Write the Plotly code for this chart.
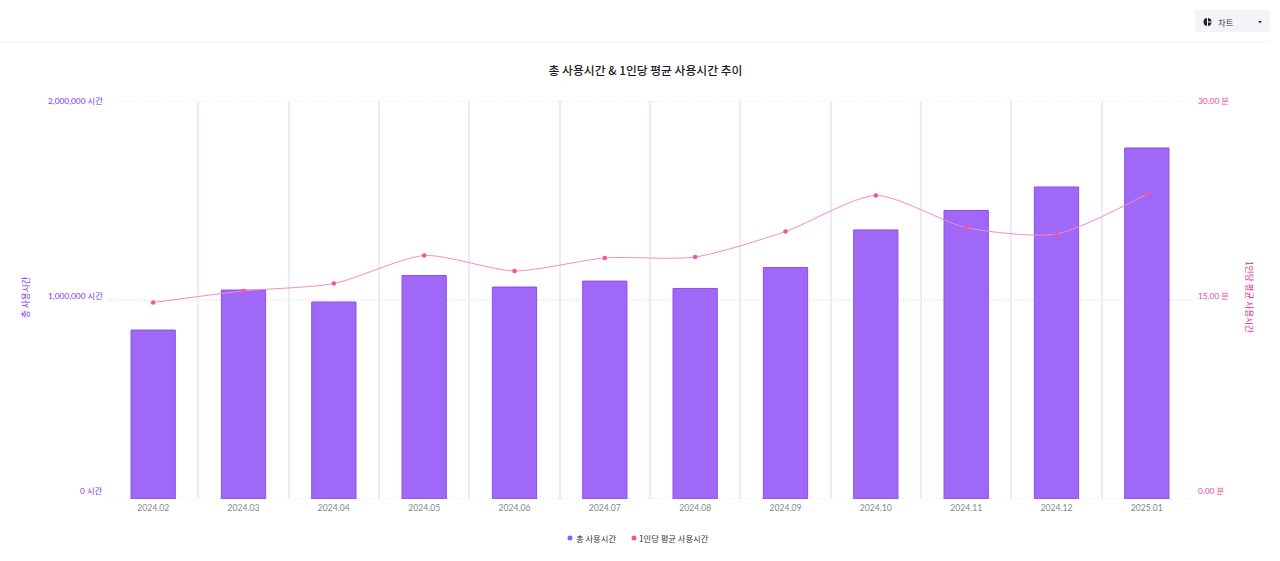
import plotly.graph_objects as go

W, H = 1280, 561
L, R, T, B = 108, 1192, 101, 499

FONT = "Lato, 'Noto Sans CJK KR', sans-serif"
KFONT = "'Noto Sans CJK KR', sans-serif"
PURPLE = "#7c3aed"
PINK = "#ec4899"

months = ["2024.02", "2024.03", "2024.04", "2024.05", "2024.06", "2024.07",
          "2024.08", "2024.09", "2024.10", "2024.11", "2024.12", "2025.01"]
total_hours = [849000, 1050000, 990000, 1123000, 1065000, 1095000,
               1058000, 1163000, 1352000, 1450000, 1568000, 1764000]
avg_minutes = [14.81, 15.68, 16.24, 18.35, 17.19, 18.17,
               18.24, 20.16, 22.88, 20.46, 19.97, 22.99]
left_ticks = [0, 1000000, 2000000]
left_labels = ["0 시간", "1,000,000 시간", "2,000,000 시간"]
right_ticks = [0, 15, 30]
right_labels = ["0.00 분", "15.00 분", "30.00 분"]


def px(x):
    return (x - L) / (R - L)


def py(y):
    return (B - y) / (B - T)


def text_at(x, y, text, color, size=8.3, anchor="left", angle=0):
    return dict(x=px(x), y=py(y), xref="paper", yref="paper", text=text, textangle=angle,
                xanchor=anchor, yanchor="middle", showarrow=False,
                font=dict(family=KFONT, size=size, color=color))


def rounded_rect(x0, y0, x1, y1, r):
    return (f"M {px(x0 + r)} {py(y0)} L {px(x1 - r)} {py(y0)} Q {px(x1)} {py(y0)} {px(x1)} {py(y0 + r)} "
            f"L {px(x1)} {py(y1 - r)} Q {px(x1)} {py(y1)} {px(x1 - r)} {py(y1)} "
            f"L {px(x0 + r)} {py(y1)} Q {px(x0)} {py(y1)} {px(x0)} {py(y1 - r)} "
            f"L {px(x0)} {py(y0 + r)} Q {px(x0)} {py(y0)} {px(x0 + r)} {py(y0)} Z")


fig = go.Figure()
fig.add_trace(go.Bar(
    x=months, y=total_hours, width=0.49, name="총 사용시간",
    marker=dict(color="#9f68f7", line=dict(color="#8b4fe8", width=1)),
))
fig.add_trace(go.Scatter(
    x=months, y=avg_minutes, yaxis="y2", mode="lines+markers", name="1인당 평균 사용시간",
    line=dict(color="#f48cc4", width=1, shape="spline", smoothing=0.7),
    marker=dict(color="#f0569f", size=4.5),
))

annotations = []
# tick labels sit just above their grid lines except at the top
for val, lab, shift in zip(left_ticks, left_labels, [8, 4, 0]):
    annotations.append(dict(x=0, y=val, xref="paper", yref="y", text=lab, showarrow=False,
                            xanchor="right", yanchor="middle", xshift=-3, yshift=shift,
                            font=dict(family=FONT, size=8.3, color=PURPLE)))
for val, lab, shift in zip(right_ticks, right_labels, [8, 4, 0]):
    annotations.append(dict(x=1, y=val, xref="paper", yref="y2", text=lab, showarrow=False,
                            xanchor="left", yanchor="middle", xshift=4, yshift=shift,
                            font=dict(family=FONT, size=8.3, color=PINK)))

annotations += [
    text_at(25, 297, "총 사용시간", PURPLE, size=8.6, anchor="center", angle=-90),
    text_at(1250, 297, "1인당 평균 사용시간", "#e0288a", size=8.6, anchor="center", angle=90),
    text_at(573.5, 538, "총 사용시간", "#33333d"),
    text_at(637, 538, "1인당 평균 사용시간", "#33333d"),
    text_at(1216, 22, "차트", "#33333d"),
]

shapes = [
    # header rule and dropdown button
    dict(type="line", xref="paper", yref="paper", x0=px(0), x1=px(1270), y0=py(42), y1=py(42),
         line=dict(color="#f3f3f7", width=1)),
    dict(type="path", xref="paper", yref="paper", path=rounded_rect(1195, 10, 1270, 32, 3),
         fillcolor="#f3f4f8", line=dict(width=0)),
    dict(type="circle", xref="paper", yref="paper", x0=px(1203.5), x1=px(1211.5), y0=py(18), y1=py(26),
         fillcolor="#1f2430", line=dict(width=0)),
    dict(type="line", xref="paper", yref="paper", x0=px(1207.5), x1=px(1207.5), y0=py(17), y1=py(27),
         line=dict(color="#f3f4f8", width=1)),
    dict(type="line", xref="paper", yref="paper", x0=px(1207.5), x1=px(1212), y0=py(22), y1=py(22),
         line=dict(color="#f3f4f8", width=1)),
    dict(type="path", xref="paper", yref="paper",
         path=f"M {px(1258)} {py(21)} L {px(1262)} {py(21)} L {px(1260)} {py(23.5)} Z",
         fillcolor="#33333d", line=dict(width=0)),
    # legend dots
    dict(type="circle", xref="paper", yref="paper", x0=px(567.5), x1=px(572.5), y0=py(535.5), y1=py(540.5),
         fillcolor="#8b5cf6", line=dict(width=0)),
    dict(type="circle", xref="paper", yref="paper", x0=px(631.5), x1=px(636.5), y0=py(535.5), y1=py(540.5),
         fillcolor="#f0569f", line=dict(width=0)),
]
# plotly drops grid lines on the plot edge, so the dotted ones are shapes
for val in left_ticks:
    shapes.append(dict(type="line", xref="paper", yref="y", x0=0, x1=1, y0=val, y1=val, layer="below",
                       line=dict(color="#cfcfe0", width=1, dash="1px,2px")))

fig.update_layout(
    width=W, height=H,
    margin=dict(l=L, r=W - R, t=T, b=H - B, autoexpand=False),
    paper_bgcolor="white", plot_bgcolor="white",
    showlegend=False,
    title=dict(text="총 사용시간 & 1인당 평균 사용시간 추이", x=645.5 / W, xanchor="center",
               y=1 - 71 / H, yanchor="middle",
               font=dict(family=KFONT, size=11.8, color="#1b1b22", weight=500)),
    xaxis=dict(type="category", range=[-0.5, 11.5], tickson="boundaries", ticks="", showgrid=True,
               gridcolor="#edecf6", gridwidth=2, zeroline=False, showline=False, ticklabelstandoff=2,
               tickfont=dict(family=FONT, size=8.6, color="#85858f")),
    yaxis=dict(range=[0, 2000000], tickvals=left_ticks, showticklabels=False, ticks="",
               showgrid=False, zeroline=False, showline=False),
    yaxis2=dict(range=[0, 30], overlaying="y", side="right", tickvals=right_ticks,
                showticklabels=False, ticks="", showgrid=False, zeroline=False, showline=False),
    annotations=annotations,
    shapes=shapes,
)

fig.write_html("out.html", config={"displayModeBar": False},
               post_script="document.body.style.margin='0';document.body.style.overflow='hidden';")
